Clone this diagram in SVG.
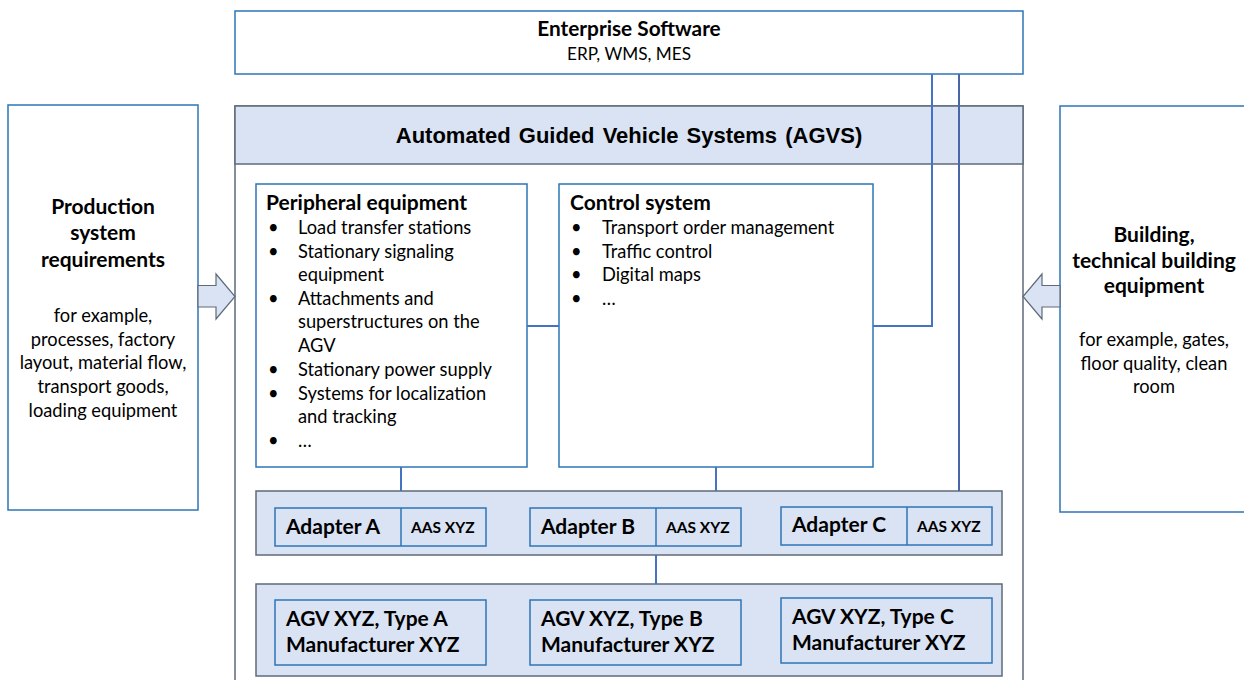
<svg xmlns="http://www.w3.org/2000/svg" width="1244" height="680" viewBox="0 0 1244 680">
<style>
.t{font-family:Lato,"Open Sans","Liberation Sans",sans-serif;fill:#000}
.b{font-weight:bold}
.c{text-anchor:middle}
.box{fill:#fff;stroke:#2E75B6;stroke-width:1.5}
.sub{fill:#DAE3F3;stroke:#2E75B6;stroke-width:1.5}
.band{fill:#DAE3F3;stroke:#5F6B78;stroke-width:1.5}
.arr{fill:#DAE3F3;stroke:#5F6B78;stroke-width:1.2}
.con{fill:none;stroke:#4472C4;stroke-width:2}
.h{font-size:21px}
.p{font-size:18.3px}
.a{font-size:21px}
.s{font-size:15.5px}
</style>

<g id="enterprise">
<rect x="235" y="11" width="788" height="63" class="box"/>
<text x="629" y="36" class="t b c" style="font-size:20.8px">Enterprise Software</text>
<text x="629" y="60" class="t c" style="font-size:17.2px">ERP, WMS, MES</text>
</g>

<g id="agvs">
<rect x="235" y="106" width="788" height="600" fill="#fff" stroke="#5F6B78" stroke-width="1.5"/>
<rect x="235" y="106" width="788" height="58" class="band"/>
<text x="629" y="143" style="font-family:'Liberation Sans',Arial,sans-serif;font-weight:bold;font-size:22px;text-anchor:middle;word-spacing:2px">Automated Guided Vehicle Systems (AGVS)</text>
</g>

<g id="production">
<rect x="8" y="105" width="190" height="405" class="box"/>
<text class="t b c h"><tspan x="103" y="214">Production</tspan><tspan x="103" y="240">system</tspan><tspan x="103" y="267">requirements</tspan></text>
<text class="t c p"><tspan x="103" y="322">for example,</tspan><tspan x="103" y="346">processes, factory</tspan><tspan x="103" y="369">layout, material flow,</tspan><tspan x="103" y="393">transport goods,</tspan><tspan x="103" y="417">loading equipment</tspan></text>
</g>

<g id="building">
<rect x="1060" y="106" width="190" height="406" class="box"/>
<text class="t b c h"><tspan x="1154" y="242">Building,</tspan><tspan x="1154" y="268">technical building</tspan><tspan x="1154" y="293">equipment</tspan></text>
<text class="t c p"><tspan x="1154" y="346">for example, gates,</tspan><tspan x="1154" y="370">floor quality, clean</tspan><tspan x="1154" y="393">room</tspan></text>
</g>

<g id="arrow-left">
<polygon points="198,285.5 216,285.5 216,274 235,296.5 216,319 216,307 198,307" class="arr"/>
</g>
<g id="arrow-right">
<polygon points="1060,285.5 1042,285.5 1042,274 1023,296.5 1042,319 1042,307 1060,307" class="arr"/>
</g>

<g id="peripheral">
<rect x="256" y="184" width="271" height="283" class="box"/>
<text x="266" y="210" class="t b h">Peripheral equipment</text>
<text class="t p">
<tspan x="268" y="234">•</tspan><tspan x="298" y="234">Load transfer stations</tspan>
<tspan x="268" y="258">•</tspan><tspan x="298" y="258">Stationary signaling</tspan>
<tspan x="298" y="281">equipment</tspan>
<tspan x="268" y="305">•</tspan><tspan x="298" y="305">Attachments and</tspan>
<tspan x="298" y="328">superstructures on the</tspan>
<tspan x="298" y="352">AGV</tspan>
<tspan x="268" y="376">•</tspan><tspan x="298" y="376">Stationary power supply</tspan>
<tspan x="268" y="400">•</tspan><tspan x="298" y="400">Systems for localization</tspan>
<tspan x="298" y="423">and tracking</tspan>
<tspan x="268" y="447">•</tspan><tspan x="298" y="447">…</tspan>
</text>
</g>

<g id="control">
<rect x="559" y="184" width="314" height="283" class="box"/>
<text x="570" y="210" class="t b h">Control system</text>
<text class="t p">
<tspan x="571" y="234">•</tspan><tspan x="602" y="234">Transport order management</tspan>
<tspan x="571" y="258">•</tspan><tspan x="602" y="258">Traffic control</tspan>
<tspan x="571" y="281">•</tspan><tspan x="602" y="281">Digital maps</tspan>
<tspan x="571" y="305">•</tspan><tspan x="602" y="305">…</tspan>
</text>
</g>

<g id="adapters">
<rect x="256" y="491" width="746" height="64" class="band"/>
</g>
<g id="adapter-a">
<rect x="275" y="508" width="211" height="38" class="sub"/>
<line x1="401" y1="508" x2="401" y2="546" stroke="#2E75B6" stroke-width="1.5"/>
<text x="286" y="534" class="t b a">Adapter A</text>
<text x="411" y="533" class="t b s">AAS XYZ</text>
</g>
<g id="adapter-b">
<rect x="530" y="508" width="211" height="38" class="sub"/>
<line x1="656" y1="508" x2="656" y2="546" stroke="#2E75B6" stroke-width="1.5"/>
<text x="541" y="534" class="t b a">Adapter B</text>
<text x="666" y="533" class="t b s">AAS XYZ</text>
</g>
<g id="adapter-c">
<rect x="781" y="507" width="211" height="38" class="sub"/>
<line x1="907" y1="507" x2="907" y2="545" stroke="#2E75B6" stroke-width="1.5"/>
<text x="792" y="532" class="t b a">Adapter C</text>
<text x="917" y="532" class="t b s">AAS XYZ</text>
</g>

<g id="agvs-band">
<rect x="256" y="584" width="746" height="92" class="band"/>
</g>
<g id="agv-a">
<rect x="275" y="600" width="211" height="65" class="sub"/>
<text class="t b a"><tspan x="286" y="626">AGV XYZ, Type A</tspan><tspan x="286" y="652">Manufacturer XYZ</tspan></text>
</g>
<g id="agv-b">
<rect x="530" y="600" width="211" height="65" class="sub"/>
<text class="t b a"><tspan x="541" y="626">AGV XYZ, Type B</tspan><tspan x="541" y="652">Manufacturer XYZ</tspan></text>
</g>
<g id="agv-c">
<rect x="781" y="598" width="211" height="65" class="sub"/>
<text class="t b a"><tspan x="792" y="624">AGV XYZ, Type C</tspan><tspan x="792" y="650">Manufacturer XYZ</tspan></text>
</g>

<g id="connectors">
<line x1="527" y1="326" x2="559" y2="326" class="con"/>
<polyline points="873,326 932,326 932,74" class="con"/>
<line x1="959" y1="74" x2="959" y2="491" class="con" style="stroke:#4A66A8"/>
<line x1="401" y1="467" x2="401" y2="491" class="con"/>
<line x1="716" y1="467" x2="716" y2="491" class="con"/>
<line x1="656" y1="555" x2="656" y2="584" class="con"/>
</g>
</svg>
